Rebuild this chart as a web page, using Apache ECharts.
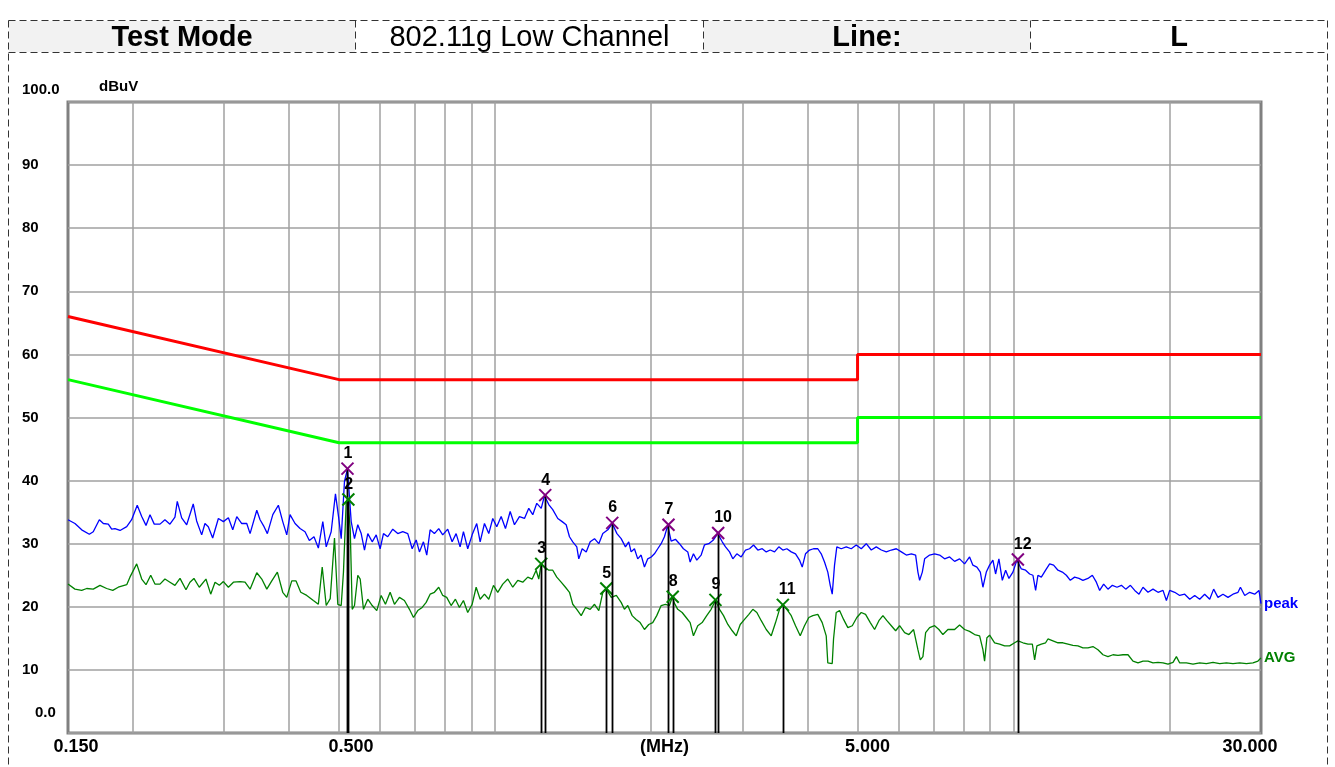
<!DOCTYPE html>
<html><head><meta charset="utf-8">
<script src="https://cdn.jsdelivr.net/npm/echarts@6/dist/echarts.min.js"></script>
<style>
html,body{margin:0;padding:0;background:#fff;}
#wrap{position:relative;width:1335px;height:767px;overflow:hidden;background:#fff;}
#chart{position:absolute;left:0;top:0;width:1335px;height:767px;}
.cell{position:absolute;top:21px;height:31px;display:flex;align-items:center;justify-content:center;font-family:"Liberation Sans",Arial,sans-serif;font-size:29px;color:#000;white-space:nowrap;}
#dash{position:absolute;left:0;top:0;pointer-events:none;}
</style></head>
<body><div id="wrap"><div id="chart"></div></div>
<script>
// ---------- header table ----------
const headerTexts = ['Test Mode', '802.11g Low Channel', 'Line:', 'L'];
const headerBold = [true, false, true, true];
const headerShaded = [true, false, true, false];

// ---------- axes ----------
const xGridValues = [0.2,0.3,0.4,0.5,0.6,0.7,0.8,0.9,1,2,3,4,5,6,7,8,9,10,20];
const xLabelValues = [0.15, 0.5, 5, 30];
const xLabelTexts = ['0.150', '0.500', '5.000', '30.000'];
const yLabelTexts = {100:'100.0', 90:'90', 80:'80', 70:'70', 60:'60', 50:'50', 40:'40', 30:'30', 20:'20', 10:'10', 0:'0.0'};

// ---------- limit lines (MHz, dBuV) ----------
const qpLimit = [[0.15,66],[0.5,56],[5,56],[5,60],[30,60]];
const avLimit = [[0.15,56],[0.5,46],[5,46],[5,50],[30,50]];

// ---------- peak trace (MHz, dBuV) ----------
const peakTrace = [[0.150,33.8],[0.1547,33.2],[0.1594,32.2],[0.1649,31.5],[0.1678,31.9],[0.1724,33.8],[0.1755,33.2],[0.1794,33.1],[0.1821,32.3],[0.1848,32.4],[0.1890,32.1],[0.1947,32.7],[0.1990,33.8],[0.2040,36.1],[0.2081,34.3],[0.2121,32.9],[0.2159,34.6],[0.2200,33.1],[0.2257,33.1],[0.2307,33.8],[0.2359,33.1],[0.2412,34.2],[0.2437,36.7],[0.2485,34.1],[0.2541,33.0],[0.2616,36.3],[0.2656,33.6],[0.2716,31.4],[0.2756,33.2],[0.2797,32.7],[0.2852,30.9],[0.2925,34.0],[0.2991,33.5],[0.3058,34.1],[0.3118,32.2],[0.3174,34.3],[0.3245,33.2],[0.3318,33.2],[0.3367,31.6],[0.3469,35.3],[0.3520,33.8],[0.3583,32.7],[0.3636,31.6],[0.3725,34.6],[0.3818,36.1],[0.3893,33.5],[0.3963,31.4],[0.4021,34.6],[0.4112,33.2],[0.4204,32.4],[0.4298,31.9],[0.4381,30.5],[0.4473,31.1],[0.4560,29.3],[0.4651,33.5],[0.4722,29.5],[0.4827,31.9],[0.4920,37.9],[0.4993,34.0],[0.5047,30.8],[0.5121,39.9],[0.5190,41.8],[0.5276,33.5],[0.5354,30.8],[0.5433,33.0],[0.5516,31.6],[0.5597,29.0],[0.5680,31.6],[0.5792,30.3],[0.5896,31.4],[0.6000,29.2],[0.6089,31.6],[0.6206,31.1],[0.6346,32.3],[0.6488,31.6],[0.6634,31.9],[0.6783,31.6],[0.6917,29.2],[0.7041,30.6],[0.7144,28.7],[0.7272,30.3],[0.7380,28.2],[0.7491,32.2],[0.7635,31.6],[0.7783,32.4],[0.7922,31.4],[0.8100,32.3],[0.8260,30.3],[0.8408,31.6],[0.8558,29.5],[0.8686,31.9],[0.8853,29.2],[0.9028,31.4],[0.9214,33.2],[0.9355,30.3],[0.9536,33.2],[0.9720,31.6],[0.9894,34.0],[1.0071,32.7],[1.0270,34.3],[1.0468,32.4],[1.0689,35.1],[1.0895,33.0],[1.1139,34.3],[1.1390,34.0],[1.1610,35.6],[1.1818,34.6],[1.2030,36.4],[1.2270,35.6],[1.2447,37.6],[1.2688,36.2],[1.2914,35.4],[1.3206,34.0],[1.3465,33.5],[1.3707,33.0],[1.3910,31.1],[1.4115,30.3],[1.4369,29.5],[1.4497,27.6],[1.4718,29.2],[1.4983,28.7],[1.5251,30.3],[1.5545,30.8],[1.5845,30.0],[1.6130,31.6],[1.6494,32.2],[1.6822,33.2],[1.7174,31.6],[1.7498,30.8],[1.7836,29.5],[1.8098,30.3],[1.8292,28.7],[1.8562,29.2],[1.8836,27.6],[1.9122,28.2],[1.9406,26.3],[1.9692,27.6],[2.000,27.9],[2.0286,28.4],[2.0586,29.2],[2.0900,30.0],[2.1208,31.1],[2.1520,32.9],[2.1848,30.4],[2.2268,30.7],[2.2670,30.0],[2.3074,29.2],[2.3522,28.7],[2.3772,27.1],[2.4124,28.4],[2.4484,27.4],[2.4962,28.2],[2.5332,29.8],[2.5818,30.0],[2.6362,30.6],[2.6872,31.6],[2.7414,30.3],[2.7816,29.5],[2.8317,28.7],[2.8734,27.6],[2.9250,28.4],[2.9826,27.9],[3.0402,29.0],[3.0948,29.2],[3.1503,29.8],[3.2109,29.0],[3.2745,29.2],[3.3330,28.7],[3.3927,29.0],[3.4581,28.7],[3.5244,29.5],[3.5876,29.0],[3.6524,29.2],[3.7244,28.7],[3.7960,28.4],[3.8636,27.4],[3.9104,26.3],[3.9680,28.4],[4.0392,29.0],[4.1116,29.2],[4.1908,29.2],[4.2548,28.4],[4.3176,27.1],[4.3812,25.5],[4.4284,23.4],[4.4680,22.0],[4.5140,26.6],[4.5600,29.5],[4.651,29.2],[4.755,29.5],[4.862,29.2],[4.971,29.8],[5.083,29.2],[5.197,30.0],[5.314,29.0],[5.433,29.5],[5.557,29.0],[5.681,28.7],[5.809,29.0],[5.939,29.2],[6.073,28.7],[6.209,28.2],[6.349,28.4],[6.471,28.2],[6.537,25.5],[6.587,24.2],[6.666,25.5],[6.735,27.6],[6.886,28.2],[7.041,28.4],[7.199,28.2],[7.360,27.6],[7.526,27.9],[7.694,27.2],[7.866,27.6],[8.043,26.8],[8.223,27.9],[8.345,26.6],[8.495,26.3],[8.625,25.5],[8.725,23.1],[8.857,25.5],[8.988,26.6],[9.121,27.4],[9.230,25.2],[9.367,27.6],[9.510,24.2],[9.651,25.8],[9.794,24.5],[9.969,25.5],[10.148,27.4],[10.348,26.0],[10.547,25.8],[10.736,25.2],[10.895,25.0],[11.026,22.6],[11.139,25.0],[11.309,24.7],[11.527,25.8],[11.734,26.8],[11.943,26.6],[12.175,25.8],[12.415,25.5],[12.637,25.0],[12.863,24.2],[13.111,24.7],[13.365,24.5],[13.603,24.2],[13.910,24.5],[14.185,25.0],[14.440,23.9],[14.653,22.6],[14.916,23.6],[15.203,22.8],[15.504,23.4],[15.826,23.1],[16.138,23.4],[16.450,22.8],[16.798,23.4],[17.122,22.6],[17.452,22.0],[17.764,23.1],[18.162,22.3],[18.570,22.8],[18.988,22.3],[19.414,22.6],[19.708,21.0],[20.00,22.6],[20.45,22.3],[20.91,21.8],[21.38,22.0],[21.86,21.2],[22.35,21.8],[22.85,21.2],[23.36,22.0],[23.89,21.2],[24.31,22.8],[24.78,21.5],[25.34,22.0],[25.91,21.5],[26.49,22.0],[27.09,22.3],[27.38,23.1],[27.91,21.8],[28.53,22.3],[29.17,22.0],[29.73,22.6],[30.0,20.5]];

// ---------- average trace (MHz, dBuV) ----------
const avgTrace = [[0.150,23.6],[0.1547,22.8],[0.1594,22.6],[0.1630,22.9],[0.1678,22.8],[0.1729,23.4],[0.1781,22.9],[0.1830,22.6],[0.1875,23.1],[0.1947,23.5],[0.1975,24.7],[0.2035,26.8],[0.2081,24.4],[0.2121,23.5],[0.2166,25.0],[0.2207,23.6],[0.2257,23.6],[0.2307,24.4],[0.2359,23.9],[0.2412,23.4],[0.2467,24.5],[0.2533,22.7],[0.2578,23.9],[0.2624,24.5],[0.2687,23.1],[0.2768,24.4],[0.2827,22.0],[0.2882,23.9],[0.2938,23.4],[0.2991,24.0],[0.3058,23.1],[0.3127,23.9],[0.3221,24.0],[0.3293,23.9],[0.3367,22.8],[0.3469,25.4],[0.3547,24.4],[0.3627,22.8],[0.3708,24.1],[0.3801,25.5],[0.3893,22.3],[0.3963,21.5],[0.4052,24.1],[0.4130,24.1],[0.4217,22.3],[0.4331,21.8],[0.4460,21.0],[0.4560,20.4],[0.4639,26.3],[0.4722,20.2],[0.4807,21.3],[0.4899,30.9],[0.4971,20.4],[0.5047,20.2],[0.5098,25.5],[0.5160,36.5],[0.5197,37.0],[0.5253,32.4],[0.5300,19.6],[0.5354,20.2],[0.5433,25.0],[0.5491,24.4],[0.5572,19.6],[0.5680,21.2],[0.5792,20.2],[0.5911,19.4],[0.6027,21.8],[0.6143,20.4],[0.6272,22.3],[0.6394,20.4],[0.6537,21.5],[0.6683,21.0],[0.6834,19.6],[0.6957,18.3],[0.7091,19.4],[0.7231,19.9],[0.7361,20.7],[0.7491,22.0],[0.7635,22.3],[0.7783,23.1],[0.7922,21.8],[0.8064,21.5],[0.8223,20.2],[0.8382,21.2],[0.8532,19.9],[0.8686,21.0],[0.8853,19.1],[0.9028,20.4],[0.9190,23.1],[0.9355,21.2],[0.9536,22.0],[0.9720,21.2],[0.9925,23.4],[1.0116,22.3],[1.0343,23.6],[1.0576,24.4],[1.0813,23.1],[1.1056,24.2],[1.1304,23.9],[1.1558,24.7],[1.1786,24.4],[1.1996,25.8],[1.2136,24.4],[1.2270,26.8],[1.2447,26.3],[1.2688,25.8],[1.2914,25.8],[1.3147,24.7],[1.3406,23.9],[1.3664,23.1],[1.3910,22.3],[1.4115,20.4],[1.4369,19.6],[1.4653,18.6],[1.4936,19.9],[1.5251,19.6],[1.5545,20.4],[1.5845,19.4],[1.6130,22.3],[1.6377,22.8],[1.6747,21.5],[1.7128,21.8],[1.7498,20.7],[1.7754,19.6],[1.8018,20.2],[1.8374,18.6],[1.8704,18.0],[1.9038,17.5],[1.9406,16.4],[1.9780,17.2],[2.0134,17.5],[2.0494,18.6],[2.0900,20.2],[2.1302,20.4],[2.1684,20.2],[2.1976,21.6],[2.2122,20.7],[2.2498,19.6],[2.2942,19.1],[2.3352,18.3],[2.3772,17.5],[2.4124,15.4],[2.4592,17.0],[2.5074,17.5],[2.5588,18.6],[2.6092,19.6],[2.6600,21.0],[2.7087,19.6],[2.7573,18.6],[2.8104,17.2],[2.8659,16.2],[2.9172,15.4],[2.9694,17.2],[3.0267,18.0],[3.0852,18.8],[3.1404,19.6],[3.1968,19.1],[3.2598,17.8],[3.3330,16.4],[3.4077,15.4],[3.4737,17.5],[3.5352,19.6],[3.5876,20.3],[3.6524,19.6],[3.7244,18.6],[3.7960,17.0],[3.8760,15.4],[3.9504,17.0],[4.0268,18.3],[4.0988,18.6],[4.1908,18.8],[4.2736,17.5],[4.3504,15.4],[4.3812,11.1],[4.4680,11.0],[4.4940,14.9],[4.5476,19.1],[4.616,19.4],[4.699,18.0],[4.789,16.7],[4.884,17.0],[4.984,18.3],[5.083,19.1],[5.181,18.8],[5.291,17.5],[5.393,16.4],[5.497,17.8],[5.596,18.6],[5.696,17.8],[5.809,17.0],[5.921,16.2],[6.027,17.0],[6.162,15.9],[6.281,15.6],[6.413,16.4],[6.537,13.2],[6.607,11.6],[6.684,12.1],[6.765,15.9],[6.886,16.7],[7.041,17.0],[7.176,16.4],[7.305,15.6],[7.469,16.4],[7.694,16.4],[7.866,17.1],[8.043,16.4],[8.223,16.1],[8.409,15.6],[8.598,15.4],[8.725,13.2],[8.790,11.4],[8.881,15.1],[8.988,15.5],[9.190,14.3],[9.396,14.1],[9.608,13.8],[9.824,13.8],[10.045,14.3],[10.193,14.6],[10.422,14.3],[10.656,14.1],[10.866,14.1],[10.978,11.6],[11.089,13.8],[11.309,14.1],[11.527,14.3],[11.645,14.9],[11.906,14.6],[12.175,14.3],[12.447,14.3],[12.728,14.1],[13.012,13.9],[13.306,13.8],[13.603,13.5],[13.910,13.5],[14.222,13.7],[14.543,13.2],[14.871,12.4],[15.203,12.1],[15.545,12.4],[15.896,12.3],[16.254,12.4],[16.618,12.4],[16.992,11.4],[17.374,11.1],[17.764,11.4],[18.162,11.4],[18.570,11.1],[18.988,11.2],[19.414,11.1],[19.850,10.9],[20.296,11.2],[20.604,12.1],[20.91,11.1],[21.54,11.1],[22.18,10.9],[22.85,11.1],[23.54,11.0],[24.24,11.2],[24.97,11.0],[25.73,11.1],[26.49,11.0],[27.29,11.1],[28.12,11.0],[28.95,11.1],[29.60,11.4],[30.0,11.9]];

// ---------- markers ----------
const markerNo    = [1, 2, 3, 4, 5, 6, 7, 8, 9, 10, 11, 12];
const markerFreq  = [0.519, 0.521, 1.227, 1.249, 1.638, 1.682, 2.159, 2.200, 2.660, 2.692, 3.588, 10.19];
const markerLevel = [41.9, 37.0, 26.8, 37.7, 22.9, 33.3, 33.0, 21.6, 21.1, 31.7, 20.3, 27.5];
const markerTrace = ['peak','avg','avg','peak','avg','peak','peak','avg','avg','peak','avg','peak'];

// ---------- build header ----------
const wrap = document.getElementById('wrap');
const cellEdges = [8, 355, 703, 1030, 1327];
headerTexts.forEach((t, i) => {
  const d = document.createElement('div');
  d.className = 'cell';
  d.style.left = (cellEdges[i] + 1) + 'px';
  d.style.width = (cellEdges[i + 1] - cellEdges[i] - 1) + 'px';
  d.style.background = headerShaded[i] ? '#f2f2f2' : '#ffffff';
  d.style.fontWeight = headerBold[i] ? 'bold' : 'normal';
  d.textContent = t;
  wrap.appendChild(d);
});
const svgNS = 'http://www.w3.org/2000/svg';
const svg = document.createElementNS(svgNS, 'svg');
svg.setAttribute('id', 'dash'); svg.setAttribute('width', 1335); svg.setAttribute('height', 767);
const dashPaths = ['M8.5,20.5 H1327.5', 'M8.5,52.5 H1327.5', 'M8.5,20.5 V767', 'M1327.5,20.5 V767',
  'M355.5,20.5 V52.5', 'M703.5,20.5 V52.5', 'M1030.5,20.5 V52.5'];
dashPaths.forEach(p => {
  const e = document.createElementNS(svgNS, 'path');
  e.setAttribute('d', p); e.setAttribute('stroke', '#333'); e.setAttribute('stroke-width', '1');
  e.setAttribute('stroke-dasharray', '7 4'); e.setAttribute('fill', 'none');
  svg.appendChild(e);
});
wrap.appendChild(svg);

// ---------- chart ----------
const FONT = '"Liberation Sans", Arial, sans-serif';
const chart = echarts.init(document.getElementById('chart'), null, {renderer: 'canvas'});

function xLabelFor(v) {
  let best = 0;
  xLabelValues.forEach((x, i) => { if (Math.abs(Math.log(x) - Math.log(v)) < Math.abs(Math.log(xLabelValues[best]) - Math.log(v))) best = i; });
  return '{x' + best + '|' + xLabelTexts[best] + '}';
}
const xRichBase = {fontFamily: FONT, fontWeight: 'bold', fontSize: 18, color: '#000'};

const option = {
  animation: false,
  backgroundColor: 'transparent',
  grid: {left: 68, right: 74, top: 102, bottom: 34, show: true, borderColor: '#808080', borderWidth: 3,
         backgroundColor: '#fff', containLabel: false, outerBoundsMode: 'none'},
  xAxis: {
    type: 'log', logBase: 10, min: 0.15, max: 30,
    axisLine: {show: false},
    axisTick: {show: false, customValues: xGridValues},
    splitLine: {show: true, lineStyle: {color: '#a0a0a0', width: 1.5}},
    axisLabel: {
      customValues: xLabelValues, margin: 5, hideOverlap: false,
      formatter: v => xLabelFor(v),
      rich: {
        x0: Object.assign({padding: [0, 0, 0, 16]}, xRichBase),
        x1: Object.assign({padding: [0, 0, 0, 24]}, xRichBase),
        x2: Object.assign({padding: [0, 0, 0, 20]}, xRichBase),
        x3: Object.assign({padding: [0, 22, 0, 0]}, xRichBase)
      }
    },
    name: '(MHz)', nameLocation: 'middle', nameGap: 5, nameMoveOverlap: false,
    nameTextStyle: {fontFamily: FONT, fontWeight: 'bold', fontSize: 18, color: '#000', verticalAlign: 'top'}
  },
  yAxis: {
    type: 'value', min: 0, max: 100, interval: 10,
    axisLine: {show: false}, axisTick: {show: false},
    splitLine: {show: true, lineStyle: {color: '#a0a0a0', width: 1.5}},
    axisLabel: {
      align: 'left', margin: 46, hideOverlap: false,
      formatter: v => v === 100 ? '{t|' + yLabelTexts[100] + '}' : (v === 0 ? '{b|' + yLabelTexts[0] + '}' : '{n|' + yLabelTexts[v] + '}'),
      rich: {
        n: {fontFamily: FONT, fontWeight: 'bold', fontSize: 15, color: '#000'},
        t: {fontFamily: FONT, fontWeight: 'bold', fontSize: 15, color: '#000', padding: [0, 0, 24, 0]},
        b: {fontFamily: FONT, fontWeight: 'bold', fontSize: 15, color: '#000', padding: [0, 0, 40, 13]}
      }
    },
    name: 'dBuV', nameLocation: 'end', nameGap: 15, nameMoveOverlap: false,
    nameTextStyle: {fontFamily: FONT, fontWeight: 'bold', fontSize: 15, color: '#000', align: 'left', verticalAlign: 'middle', padding: [0, 0, 0, 31]}
  },
  series: [
    {name: 'QP limit', type: 'line', data: qpLimit, showSymbol: false, silent: true, z: 2,
     lineStyle: {color: '#ff0000', width: 3}},
    {name: 'AV limit', type: 'line', data: avLimit, showSymbol: false, silent: true, z: 2,
     lineStyle: {color: '#00ff00', width: 3}},
    {name: 'peak', type: 'line', data: peakTrace, showSymbol: false, silent: true, z: 3,
     lineStyle: {color: '#0000ff', width: 1.3},
     endLabel: {show: true, formatter: 'peak', color: '#0000ff', fontFamily: FONT, fontWeight: 'bold', fontSize: 15, distance: 3}},
    {name: 'AVG', type: 'line', data: avgTrace, showSymbol: false, silent: true, z: 3,
     lineStyle: {color: '#008000', width: 1.3},
     endLabel: {show: true, formatter: 'AVG', color: '#008000', fontFamily: FONT, fontWeight: 'bold', fontSize: 15, distance: 3}},
    {name: 'markers', type: 'custom', z: 5, silent: true,
     data: markerFreq.map((f, i) => [f, markerLevel[i]]),
     renderItem: (params, api) => {
       const i = params.dataIndex;
       const f = api.value(0), v = api.value(1);
       const p = api.coord([f, v]);
       const b = api.coord([f, 0]);
       const col = markerTrace[i] === 'peak' ? '#800080' : '#008000';
       const s = 6;
       return {type: 'group', children: [
         {type: 'line', shape: {x1: Math.round(p[0]) + 0.5, y1: p[1], x2: Math.round(p[0]) + 0.5, y2: b[1]}, style: {stroke: '#000', lineWidth: 1.8}},
         {type: 'line', shape: {x1: p[0] - s, y1: p[1] - s, x2: p[0] + s, y2: p[1] + s}, style: {stroke: col, lineWidth: 2}},
         {type: 'line', shape: {x1: p[0] - s, y1: p[1] + s, x2: p[0] + s, y2: p[1] - s}, style: {stroke: col, lineWidth: 2}},
         {type: 'text', x: p[0] - 4, y: p[1] - 7, style: {text: String(markerNo[i]), fill: '#000', font: 'bold 16px ' + FONT, textAlign: 'left', textVerticalAlign: 'bottom'}}
       ]};
     }}
  ]
};
chart.setOption(option);
</script>
</body></html>
